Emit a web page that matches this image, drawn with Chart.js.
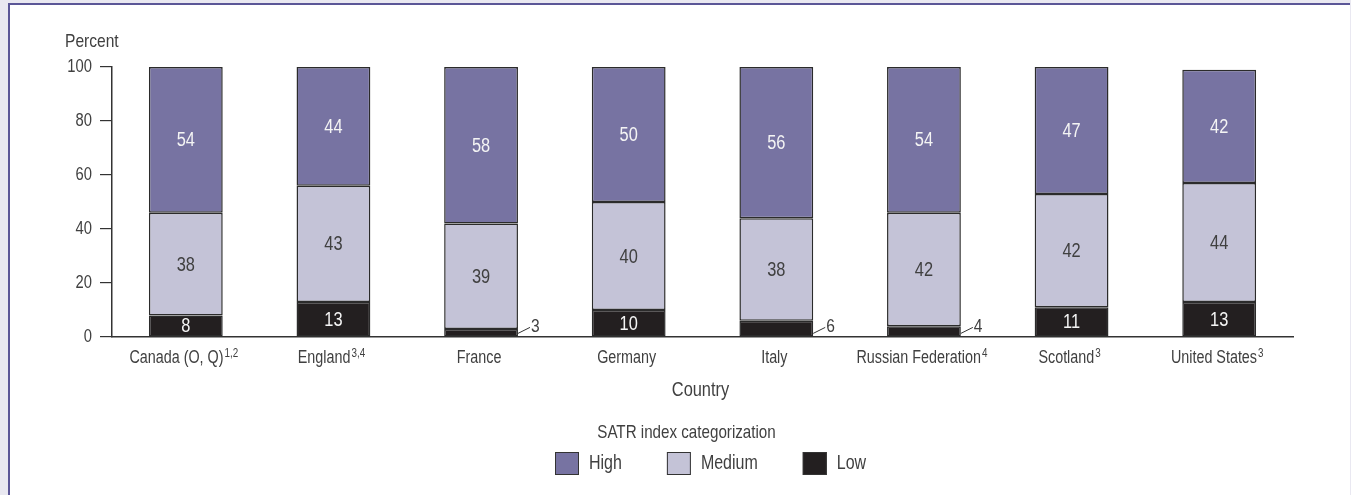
<!DOCTYPE html>
<html>
<head>
<meta charset="utf-8">
<script src="https://cdn.jsdelivr.net/npm/chart.js@4.4.1/dist/chart.umd.min.js"></script>
<style>
  html, body { margin: 0; padding: 0; width: 1351px; height: 495px; overflow: hidden; background: #e9e8f1; }
  #panel { position: absolute; left: 8px; top: 3px; width: 1342px; height: 500px; background: #fff;
           border-left: 2px solid #5b5697; border-top: 2px solid #5b5697; box-sizing: border-box; }
  #wrap { position: absolute; left: 0; top: 0; width: 1351px; height: 495px; }
</style>
</head>
<body>
<div id="panel"></div>
<div id="wrap"><canvas id="chart"></canvas></div>
<script>
// narrow look: Liberation Sans squeezed horizontally (no condensed face installed)
const FONT = '"Liberation Sans", Arimo, sans-serif';
const SQUEEZE = 0.82;
const TEXT = '#404040';

const CATEGORIES = ['Canada (O, Q)', 'England', 'France', 'Germany', 'Italy', 'Russian Federation', 'Scotland', 'United States'];
const NOTES = ['1,2', '3,4', '', '', '', '4', '3', '3'];
const LOW = [8, 13, 3, 10, 6, 4, 11, 13];
const MEDIUM = [38, 43, 39, 40, 38, 42, 42, 44];
const HIGH = [54, 44, 58, 50, 56, 54, 47, 42];
const Y_TICKS = [0, 20, 40, 60, 80, 100];

const COLORS = { High: '#7773a2', Medium: '#c4c3d7', Low: '#231f20' };
const LEGEND_ORDER = ['High', 'Medium', 'Low'];

function bars(label, data) {
  return {
    label,
    data,
    backgroundColor: COLORS[label],
    borderColor: '#2b2b2b',
    borderWidth: 1.5,
    borderSkipped: false,
    barPercentage: 0.5,
    categoryPercentage: 1
  };
}

function textWidth(ctx, str, size) {
  ctx.font = `${size}px ${FONT}`;
  return ctx.measureText(str).width * SQUEEZE;
}

function drawText(ctx, str, x, y, size, align = 'left', color = TEXT) {
  ctx.save();
  ctx.font = `${size}px ${FONT}`;
  ctx.fillStyle = color;
  ctx.textAlign = align;
  ctx.textBaseline = 'middle';
  ctx.translate(x, y);
  ctx.scale(SQUEEZE, 1);
  ctx.fillText(str, 0, 0);
  ctx.restore();
}

// all texts, leader lines and legend
const annotate = {
  id: 'annotate',
  afterDatasetsDraw(chart) {
    const { ctx, chartArea, scales: { x, y } } = chart;
    ctx.save();

    chart.data.datasets.forEach((ds, di) => {
      const meta = chart.getDatasetMeta(di);
      meta.data.forEach((bar, i) => {
        const v = ds.data[i];
        const mid = (bar.y + bar.base) / 2;
        if (ds.label === 'Low' && v < 7) {
          const right = bar.x + bar.width / 2;
          ctx.strokeStyle = '#333';
          ctx.lineWidth = 1;
          ctx.beginPath();
          ctx.moveTo(right, bar.base - 3);
          ctx.lineTo(right + 12, bar.base - 9);
          ctx.stroke();
          drawText(ctx, String(v), right + 13, bar.base - 10, 19);
        } else {
          const col = ds.label === 'Medium' ? TEXT : '#f4f4f4';
          drawText(ctx, String(v), bar.x, mid + 1, 20, 'center', col);
        }
      });
    });

    // y tick labels
    Y_TICKS.forEach(v => drawText(ctx, String(v), 92, y.getPixelForValue(v), 18, 'right'));
    drawText(ctx, 'Percent', 65, 42, 19);

    // category labels with superscript notes
    CATEGORIES.forEach((name, i) => {
      const cx = x.getPixelForValue(i) - 2;
      const w1 = textWidth(ctx, name, 17.5);
      const w2 = NOTES[i] ? textWidth(ctx, NOTES[i], 12) + 1 : 0;
      const left = cx - (w1 + w2) / 2;
      drawText(ctx, name, left, 358, 17.5);
      if (NOTES[i]) drawText(ctx, NOTES[i], left + w1 + 1, 354, 12);
    });

    const center = (chartArea.left + chartArea.right) / 2;
    drawText(ctx, 'Country', center - 2, 390, 20, 'center');

    // legend
    drawText(ctx, 'SATR index categorization', center - 16, 433, 18.5, 'center');
    const gap = 45, box = 24, textOff = 34;
    const widths = LEGEND_ORDER.map(l => textOff + textWidth(ctx, l, 19.5));
    const total = widths.reduce((a, b) => a + b, 0) + gap * (LEGEND_ORDER.length - 1);
    let lx = Math.round(center + 8 - total / 2);
    LEGEND_ORDER.forEach((l, k) => {
      ctx.fillStyle = COLORS[l];
      ctx.fillRect(lx, 452, box, 23);
      ctx.strokeStyle = '#333';
      ctx.lineWidth = 1;
      ctx.strokeRect(lx + 0.5, 452.5, box - 1, 22);
      drawText(ctx, l, lx + textOff, 464, 19.5);
      lx += widths[k] + gap;
    });

    ctx.restore();
  }
};

new Chart(document.getElementById('chart'), {
  type: 'bar',
  data: {
    labels: CATEGORIES,
    datasets: [bars('Low', LOW), bars('Medium', MEDIUM), bars('High', HIGH)]
  },
  options: {
    responsive: true,
    maintainAspectRatio: false,
    animation: false,
    layout: { padding: { left: 0, right: 58, top: 67, bottom: 0 } },
    plugins: { legend: { display: false }, tooltip: { enabled: false } },
    scales: {
      x: {
        stacked: true,
        grid: { display: false },
        border: { display: true, color: '#333', width: 1.5 },
        ticks: { display: false },
        afterFit: s => { s.height = 158; }
      },
      y: {
        stacked: true,
        min: 0,
        max: 100,
        grid: { display: true, drawOnChartArea: false, drawTicks: true, tickLength: 12, color: '#333', lineWidth: 1.2 },
        border: { display: true, color: '#333', width: 1.5 },
        ticks: { display: false },
        afterBuildTicks: s => { s.ticks = Y_TICKS.map(v => ({ value: v })); },
        afterFit: s => { s.width = 112; }
      }
    }
  },
  plugins: [annotate]
});
</script>
</body>
</html>
